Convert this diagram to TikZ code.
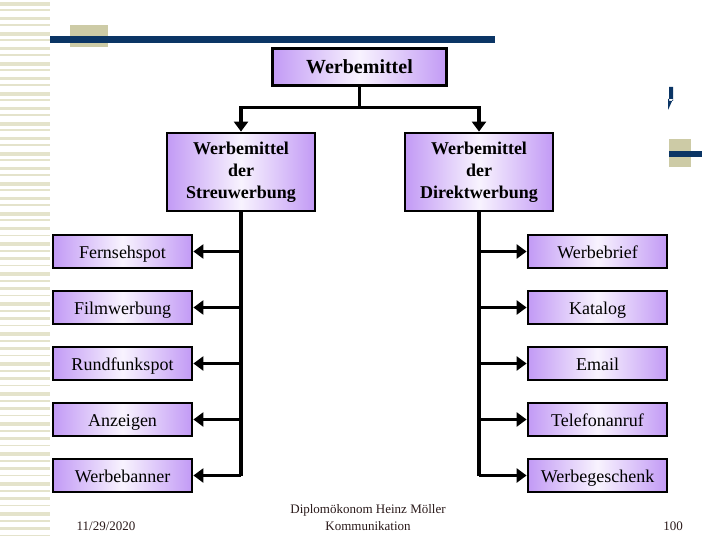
\documentclass[tikz,border=0pt]{standalone}
\usepackage{fontspec}
\setmainfont{Liberation Serif}
\usetikzlibrary{arrows.meta}
\definecolor{lav}{HTML}{C29AF5}
\definecolor{lavmid}{HTML}{F8F3FE}
\definecolor{stripe}{HTML}{E4E3CB}
\definecolor{sq}{HTML}{CDCBA6}
\definecolor{navy}{HTML}{0B3565}
\definecolor{foot}{HTML}{2A1A1A}
\tikzset{
  boxbase/.style={draw=black, line width=2.8pt, left color=lav, right color=lav, middle color=lavmid, align=center, inner sep=0pt},
  topbox/.style={boxbase, minimum width=174pt, minimum height=37pt, text height=15pt, text depth=1pt, font=\fontsize{20}{22}\selectfont\bfseries},
  midbox/.style={boxbase, minimum width=148pt, minimum height=78pt, font=\fontsize{18}{22}\selectfont\bfseries},
  leaf/.style={boxbase, minimum width=139pt, minimum height=33pt, text height=14.5pt, text depth=1pt, font=\fontsize{18}{20}\selectfont},
  conn/.style={line width=3.2pt, black},
  arr/.style={conn, -{Triangle[length=10pt,width=14pt]}},
  foottext/.style={text=foot, font=\fontsize{13}{17}\selectfont, inner sep=0pt, align=center}
}
\begin{document}
\begin{tikzpicture}[x=1pt,y=-1pt]
\path[use as bounding box, fill=white] (0,0) rectangle (720,540);
% left stripes
\foreach \i [evaluate=\i as \yy using \i*7.5+2, evaluate=\i as \hh using {mod(\i,4)==0 ? 4 : (mod(\i,4)==1 ? 2 : (mod(\i,4)==2 ? 3.2 : 1.6))}] in {0,...,71}
  \fill[stripe] (0,\yy) rectangle (50,\yy+\hh);
% top decoration
\fill[sq] (70,25) rectangle (108,47);
\fill[navy] (50,36) rectangle (495,43);
% right decoration
\fill[sq] (669,139) rectangle (691,167);
\fill[navy] (669,151) rectangle (702,157);
\fill[navy] (669,87) rectangle (673,101) (668,99) -- (673,99) -- (668,110) -- cycle;

% nodes
\node[topbox] (top) at (359.5,67) {Werbemittel};
\node[midbox] (sw) at (241,172) {Werbemittel\\der\\Streuwerbung};
\node[midbox] (dw) at (479,172) {Werbemittel\\der\\Direktwerbung};

\node[leaf] (l1) at (122.5,251.5) {Fernsehspot};
\node[leaf] (l2) at (122.5,307.5) {Filmwerbung};
\node[leaf] (l3) at (122.5,363.5) {Rundfunkspot};
\node[leaf] (l4) at (122.5,419.5) {Anzeigen};
\node[leaf] (l5) at (122.5,475.5) {Werbebanner};

\node[leaf] (r1) at (597.5,251.5) {Werbebrief};
\node[leaf] (r2) at (597.5,307.5) {Katalog};
\node[leaf] (r3) at (597.5,363.5) {Email};
\node[leaf] (r4) at (597.5,419.5) {Telefonanruf};
\node[leaf] (r5) at (597.5,475.5) {Werbegeschenk};

% connectors
\draw[conn] (top.south) -- ++(0,21) coordinate (j);
\draw[arr] (j) -| (sw.north);
\draw[arr] (j) -| (dw.north);
\draw[conn] (sw.south) -- (sw.south |- l5.east);
\draw[conn] (dw.south) -- (dw.south |- r5.west);
\foreach \n in {l1,l2,l3,l4,l5}
  \draw[arr] (sw.south |- \n.east) -- (\n.east);
\foreach \n in {r1,r2,r3,r4,r5}
  \draw[arr] (dw.south |- \n.west) -- (\n.west);

% footer
\node[foottext] (date) at (106,526) {11/29/2020};
\node[foottext] (auth) at (368,517.5) {Diplomökonom Heinz Möller\\Kommunikation};
\node[foottext] (page) at (673,526) {100};
\end{tikzpicture}
\end{document}
